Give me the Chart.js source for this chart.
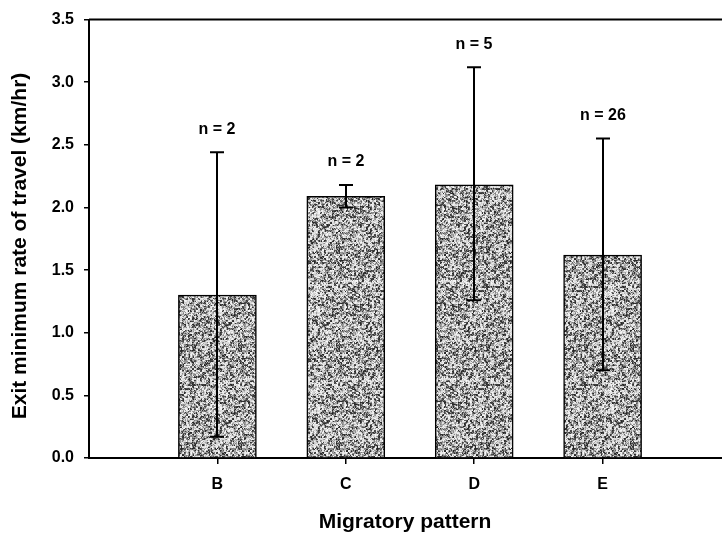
<!DOCTYPE html>
<html lang="en">
<head>
  <meta charset="UTF-8" />
  <title>Exit minimum rate of travel by migratory pattern</title>
  <script src="https://cdn.jsdelivr.net/npm/chart.js"></script>
  <style>
    html, body {
      margin: 0;
      padding: 0;
      background: #fff;
      overflow: hidden;
    }
    #rateChart {
      display: block;
    }
  </style>
</head>
<body>

<canvas id="rateChart" width="731" height="539"></canvas>

<script>
  // migratory patterns and exit rates (km/hr)
  const patterns = ['B', 'C', 'D', 'E'];
  const meanRate = [1.30, 2.09, 2.18, 1.62];
  const errLow = [0.17, 2.00, 1.26, 0.70];
  const errHigh = [2.44, 2.18, 3.12, 2.55];
  const sampleSize = [2, 2, 5, 26];
  const yTicks = [0, 0.5, 1.0, 1.5, 2.0, 2.5, 3.0, 3.5];

  const FONT = "'Liberation Sans', Arial, sans-serif";

  // speckled grey fill for the bars (coarse grain, 2px cells plus fine dots)
  function makeSpeckle() {
    const size = 98;
    const c = document.createElement('canvas');
    c.width = size;
    c.height = size;
    const g = c.getContext('2d');
    const img = g.createImageData(size, size);
    let s = 4242;
    const rnd = () => {
      s = (s * 1103515245 + 12345) & 0x7fffffff;
      return s / 0x7fffffff;
    };
    const cells = [];
    for (let i = 0; i < (size / 2) * (size / 2); i++) cells.push(rnd());
    for (let yy = 0; yy < size; yy++) {
      for (let xx = 0; xx < size; xx++) {
        const cell = cells[(yy >> 1) * (size / 2) + (xx >> 1)];
        const r = cell * 0.6 + rnd() * 0.4;
        let v;
        if (r < 0.33) v = 35 + rnd() * 60;
        else if (r < 0.55) v = 120 + rnd() * 60;
        else v = 200 + rnd() * 50;
        const k = (yy * size + xx) * 4;
        img.data[k] = v;
        img.data[k + 1] = v;
        img.data[k + 2] = v;
        img.data[k + 3] = 255;
      }
    }
    g.putImageData(img, 0, 0);
    return g.createPattern(c, 'repeat');
  }

  const extras = {
    id: 'extras',
    afterDatasetsDraw(chart) {
      const { ctx, chartArea, scales: { x, y } } = chart;
      ctx.save();
      // top frame line
      ctx.strokeStyle = '#000';
      ctx.lineWidth = 2;
      ctx.beginPath();
      ctx.moveTo(chartArea.left, chartArea.top);
      ctx.lineTo(chartArea.right, chartArea.top);
      ctx.stroke();

      // error bars and sample sizes
      ctx.lineWidth = 2;
      ctx.fillStyle = '#000';
      ctx.font = 'bold 16px ' + FONT;
      ctx.textAlign = 'center';
      ctx.textBaseline = 'middle';
      patterns.forEach((p, i) => {
        const px = Math.round(x.getPixelForValue(i + 1));
        const lo = y.getPixelForValue(errLow[i]);
        const hi = y.getPixelForValue(errHigh[i]);
        ctx.beginPath();
        ctx.moveTo(px, lo);
        ctx.lineTo(px, hi);
        ctx.moveTo(px - 7, lo);
        ctx.lineTo(px + 7, lo);
        ctx.moveTo(px - 7, hi);
        ctx.lineTo(px + 7, hi);
        ctx.stroke();
        ctx.fillText('n = ' + sampleSize[i], px, hi - 23);
      });

      // axis titles
      ctx.font = 'bold 21px ' + FONT;
      ctx.fillText('Migratory pattern', 405, 522);
      ctx.translate(20, 246);
      ctx.rotate(-Math.PI / 2);
      ctx.fillText('Exit minimum rate of travel (km/hr)', 0, 0);
      ctx.restore();
    }
  };

  const ctx = document.getElementById('rateChart').getContext('2d');
  new Chart(ctx, {
    type: 'bar',
    data: {
      datasets: [{
        data: meanRate.map((v, i) => ({ x: i + 1, y: v })),
        backgroundColor: makeSpeckle(),
        borderColor: '#000',
        borderWidth: 1.5,
        barThickness: 78
      }]
    },
    options: {
      responsive: false,
      animation: false,
      devicePixelRatio: 1,
      layout: { padding: { top: 13, right: 0, left: 0, bottom: 0 } },
      plugins: {
        legend: { display: false },
        tooltip: { enabled: false }
      },
      scales: {
        x: {
          type: 'linear',
          min: 0,
          max: 5,
          offset: false,
          afterFit: (scale) => { scale.height = 81; },
          afterBuildTicks: (scale) => {
            scale.ticks = patterns.map((p, i) => ({ value: i + 1 }));
          },
          grid: {
            offset: false,
            drawOnChartArea: false,
            color: '#000',
            lineWidth: 1.5,
            tickLength: 6
          },
          border: { color: '#000', width: 2 },
          ticks: {
            autoSkip: false,
            padding: 11,
            color: '#000',
            font: { family: FONT, size: 16, weight: 'bold' },
            callback: (v) => patterns[v - 1]
          }
        },
        y: {
          min: 0,
          max: 3.5,
          afterFit: (scale) => { scale.width = 89; },
          afterBuildTicks: (scale) => {
            scale.ticks = yTicks.map(v => ({ value: v }));
          },
          grid: {
            drawOnChartArea: false,
            color: '#000',
            lineWidth: 1.5,
            tickLength: 5
          },
          border: { color: '#000', width: 2 },
          ticks: {
            padding: 10,
            color: '#000',
            font: { family: FONT, size: 16, weight: 'bold' },
            callback: (v) => v.toFixed(1)
          }
        }
      }
    },
    plugins: [extras]
  });
</script>

</body>
</html>
